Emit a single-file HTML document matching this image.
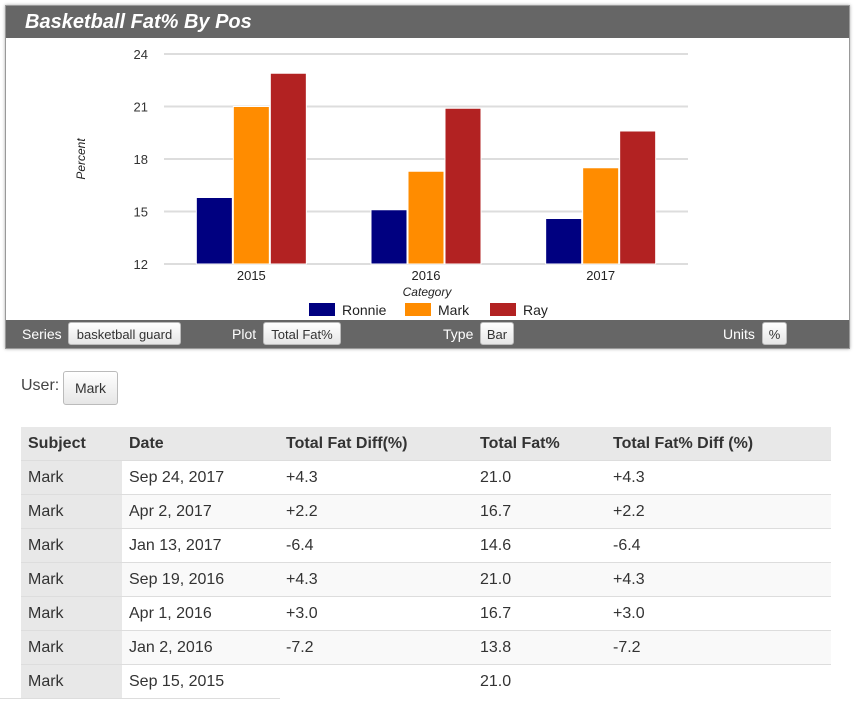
<!DOCTYPE html>
<html><head><meta charset="utf-8"><style>
body{margin:0;width:855px;height:701px;background:#fff;font-family:"Liberation Sans",sans-serif;position:relative;overflow:hidden;color:#333}
.abs{position:absolute}
#panel{left:5px;top:5px;width:843px;height:342px;border:1px solid #999;box-shadow:0 0 3px #aaa;background:#fff}
#hdr{left:0;top:0;width:843px;height:32px;background:#666;color:#fff;font-weight:bold;font-style:italic;font-size:20px;line-height:32px;padding-left:19px;box-sizing:border-box}
#foot{left:0;top:314px;width:843px;height:28px;background:#666;color:#fff;font-size:14px}
.btn{position:absolute;top:2px;height:23px;background:linear-gradient(#fff,#e6e6e6);border:1px solid #bbb;border-radius:3px;color:#333;font-size:13px;line-height:23px;text-align:center;box-sizing:border-box}
.lab{position:absolute;top:6px}
table{border-collapse:collapse;font-size:16px}
td,th{height:33px;padding:0 0 0 7px;text-align:left;border-top:1px solid #ddd}
th{background:#e8e8e8;font-weight:bold;color:#333;border-top:none}
td:first-child{background:#e8e8e8}
tr:nth-child(odd) td{background:#f9f9f9}
tr:nth-child(odd) td:first-child,tr td:first-child{background:#e8e8e8}
</style></head><body>
<div id="panel" class="abs">
<div id="hdr" class="abs">Basketball Fat% By Pos</div>
<svg class="abs" style="left:0;top:32px" width="843" height="282" id="chart"></svg>
<div id="foot" class="abs">
<span class="lab" style="left:16px">Series</span>
<div class="btn" style="left:62px;width:113px">basketball guard</div>
<span class="lab" style="left:226px">Plot</span>
<div class="btn" style="left:257px;width:78px">Total Fat%</div>
<span class="lab" style="left:437px">Type</span>
<div class="btn" style="left:474px;width:34px">Bar</div>
<span class="lab" style="left:717px">Units</span>
<div class="btn" style="left:756px;width:25px">%</div>
</div></div>
<span class="abs" style="left:21px;top:377px;font-size:16px;color:#444">User:</span>
<div class="btn" style="left:63px;top:371px;width:55px;height:34px;line-height:32px;font-size:14px">Mark</div>
<table class="abs" style="left:21px;top:427px;width:810px">
<tr style="height:33px"><th style="width:94px">Subject</th><th style="width:150px">Date</th><th style="width:187px">Total Fat Diff(%)</th><th style="width:126px">Total Fat%</th><th>Total Fat% Diff (%)</th></tr>
<tr><td>Mark</td><td>Sep 24, 2017</td><td>+4.3</td><td>21.0</td><td>+4.3</td></tr>
<tr><td>Mark</td><td>Apr 2, 2017</td><td>+2.2</td><td>16.7</td><td>+2.2</td></tr>
<tr><td>Mark</td><td>Jan 13, 2017</td><td>-6.4</td><td>14.6</td><td>-6.4</td></tr>
<tr><td>Mark</td><td>Sep 19, 2016</td><td>+4.3</td><td>21.0</td><td>+4.3</td></tr>
<tr><td>Mark</td><td>Apr 1, 2016</td><td>+3.0</td><td>16.7</td><td>+3.0</td></tr>
<tr><td>Mark</td><td>Jan 2, 2016</td><td>-7.2</td><td>13.8</td><td>-7.2</td></tr>
<tr><td>Mark</td><td>Sep 15, 2015</td><td></td><td>21.0</td><td></td></tr>
</table>
<div class="abs" style="left:0;top:698px;width:280px;height:1px;background:#ddd"></div>
<script>
const categories=["2015","2016","2017"];
const seriesNames=["Ronnie","Mark","Ray"];
const ronnie=[15.8,15.1,14.6];
const mark=[21.0,17.3,17.5];
const ray=[22.9,20.9,19.6];
const yTicks=[12,15,18,21,24];
const colors=["#000080","#ff8c00","#b22222"];
const svg=document.getElementById('chart');
const NS="http://www.w3.org/2000/svg";
const ox=5,oy=37;
const x0=163-ox,x1=687-ox,yMin=12,yMax=24,pTop=53-oy,pBot=263-oy;
const y=v=>pBot-(v-yMin)/(yMax-yMin)*(pBot-pTop);
const bw=(x1-x0)/categories.length;
function mk(t,a,txt){const e=document.createElementNS(NS,t);for(const k in a)e.setAttribute(k,a[k]);if(txt!==undefined)e.textContent=txt;svg.appendChild(e);return e;}
yTicks.forEach(t=>{const l=mk('line',{x1:x0,x2:x1,y1:y(t),y2:y(t),stroke:'#ddd','stroke-width':2});


const tx=mk('text',{x:x0-16,y:y(t)+5,'text-anchor':'end','font-size':13,fill:'#333'},t);

});
const data=[ronnie,mark,ray];
categories.forEach((c,i)=>{const cx=x0+bw*(i+0.5);
data.forEach((s,j)=>{const r=mk('rect',{x:cx-55+j*37,y:y(s[i]),width:36,height:pBot-y(s[i]),fill:colors[j],stroke:'#fff','stroke-width':1});

});
const t=mk('text',{x:cx,y:pBot+16,'text-anchor':'middle','font-size':13,fill:'#222'},c);

});
const xt=mk('text',{x:426-ox,y:291-oy+4,'text-anchor':'middle','font-size':12,'font-style':'italic',fill:'#222'},'Category');


const yt=mk('text',{x:0,y:0,transform:`translate(${84-ox},${158-oy}) rotate(-90)`,'text-anchor':'middle','font-size':12,'font-style':'italic',fill:'#222'},'Percent');


const lx=[308,404,489];
seriesNames.forEach((n,j)=>{const r=mk('rect',{x:lx[j]-ox,y:302-oy,width:26,height:13,fill:colors[j]});


const t=mk('text',{x:lx[j]-ox+33,y:314-oy,'font-size':14,fill:'#222'},n);

});
</script>
</body></html>
